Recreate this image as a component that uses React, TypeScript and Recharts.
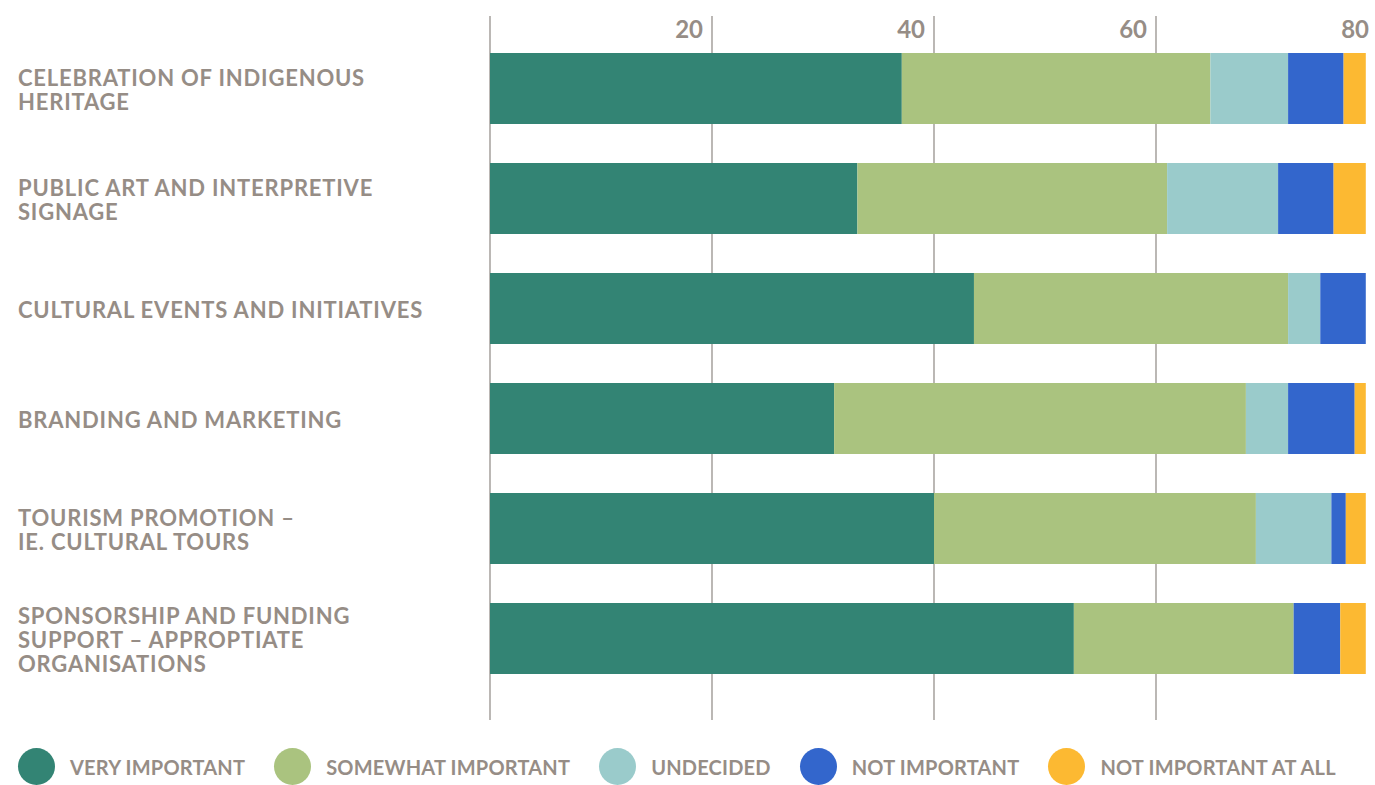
import React from "react";
import {
  BarChart,
  Bar,
  XAxis,
  YAxis,
  CartesianGrid,
  Legend,
} from "recharts";

// rows, top to bottom, with the label line breaks used in the chart
const categoryLines = [
  ["CELEBRATION OF INDIGENOUS", "HERITAGE"],
  ["PUBLIC ART AND INTERPRETIVE", "SIGNAGE"],
  ["CULTURAL EVENTS AND INITIATIVES"],
  ["BRANDING AND MARKETING"],
  ["TOURISM PROMOTION –", "IE. CULTURAL TOURS"],
  ["SPONSORSHIP AND FUNDING", "SUPPORT – APPROPTIATE", "ORGANISATIONS"],
];

const veryImportant = [37.1, 33.1, 43.6, 31.0, 40.0, 52.6];
const somewhatImportant = [27.8, 27.9, 28.3, 37.1, 29.0, 19.8];
const undecided = [7.0, 10.0, 2.9, 3.8, 6.8, 0];
const notImportant = [5.0, 5.0, 4.1, 6.0, 1.3, 4.2];
const notImportantAtAll = [2.0, 2.9, 0, 1.0, 1.8, 2.3];

const xTicks = [0, 20, 40, 60, 80];

const series = [
  { key: "very", name: "VERY IMPORTANT", color: "#338474" },
  { key: "somewhat", name: "SOMEWHAT IMPORTANT", color: "#aac37f" },
  { key: "undecided", name: "UNDECIDED", color: "#9acbcb" },
  { key: "not", name: "NOT IMPORTANT", color: "#3366cc" },
  { key: "notAtAll", name: "NOT IMPORTANT AT ALL", color: "#fcb932" },
];

const TEXT = "#968d86";
const FONT = "Lato, 'Open Sans', sans-serif";

const data = categoryLines.map((lines, i) => ({
  name: lines.join(" "),
  very: veryImportant[i],
  somewhat: somewhatImportant[i],
  undecided: undecided[i],
  not: notImportant[i],
  notAtAll: notImportantAtAll[i],
}));

const XTick = (props: any) => {
  const { x, y, payload } = props;
  if (payload.value === 0) return null;
  return (
    <text
      x={x - 9}
      y={y + 22}
      textAnchor="end"
      fill={TEXT}
      fontFamily={FONT}
      fontWeight={700}
      fontSize={24}
    >
      {payload.value}
    </text>
  );
};

const YTick = (props: any) => {
  const { y, payload } = props;
  const lines = categoryLines[payload.index] || [String(payload.value)];
  const first = y + 9.5 - (lines.length - 1) * 12;
  return (
    <text
      x={18}
      y={first}
      textAnchor="start"
      fill={TEXT}
      fontFamily={FONT}
      fontWeight={700}
      fontSize={22}
      letterSpacing={0.8}
    >
      {lines.map((l, i) => (
        <tspan key={i} x={18} y={first + i * 24}>
          {l}
        </tspan>
      ))}
    </text>
  );
};

// legend drawn in the series order (recharts sorts its payload by name)
const renderLegend = () => (
  <div style={{ display: "flex", alignItems: "center" }}>
    {series.map((s) => (
      <div
        key={s.key}
        style={{ display: "flex", alignItems: "center", marginRight: 29 }}
      >
        <span
          style={{
            width: 37,
            height: 37,
            borderRadius: "50%",
            background: s.color,
            display: "inline-block",
            marginRight: 15,
          }}
        />
        <span
          style={{
            color: TEXT,
            fontFamily: FONT,
            fontWeight: 700,
            fontSize: 20,
            letterSpacing: 0.2,
            whiteSpace: "nowrap",
          }}
        >
          {s.name}
        </span>
      </div>
    ))}
  </div>
);

export default function App() {
  return (
    <div
      style={{
        position: "absolute",
        left: 0,
        top: 0,
        width: 1375,
        height: 785,
        overflow: "hidden",
        background: "#fff",
      }}
    >
      <BarChart
        width={1380}
        height={785}
        data={data}
        layout="vertical"
        margin={{ top: 0, right: 2, bottom: 65, left: 0 }}
        barSize={71}
      >
        <CartesianGrid
          horizontal={false}
          vertical={true}
          stroke="#8e8883"
          strokeWidth={1.2}
        />
        <XAxis
          type="number"
          orientation="top"
          domain={[0, 80]}
          ticks={xTicks}
          height={16}
          axisLine={false}
          tickLine={false}
          tickSize={0}
          tickMargin={0}
          tick={<XTick />}
          interval={0}
        />
        <YAxis
          type="category"
          dataKey="name"
          width={490}
          axisLine={false}
          tickLine={false}
          tick={<YTick />}
          interval={0}
          padding={{ top: 17, bottom: 27 }}
        />
        <Legend
          layout="horizontal"
          verticalAlign="middle"
          align="center"
          wrapperStyle={{ left: 18, top: 748 }}
          content={renderLegend}
        />
        {series.map((s) => (
          <Bar
            key={s.key}
            dataKey={s.key}
            name={s.name}
            stackId="a"
            fill={s.color}
            isAnimationActive={false}
          />
        ))}
      </BarChart>
    </div>
  );
}
